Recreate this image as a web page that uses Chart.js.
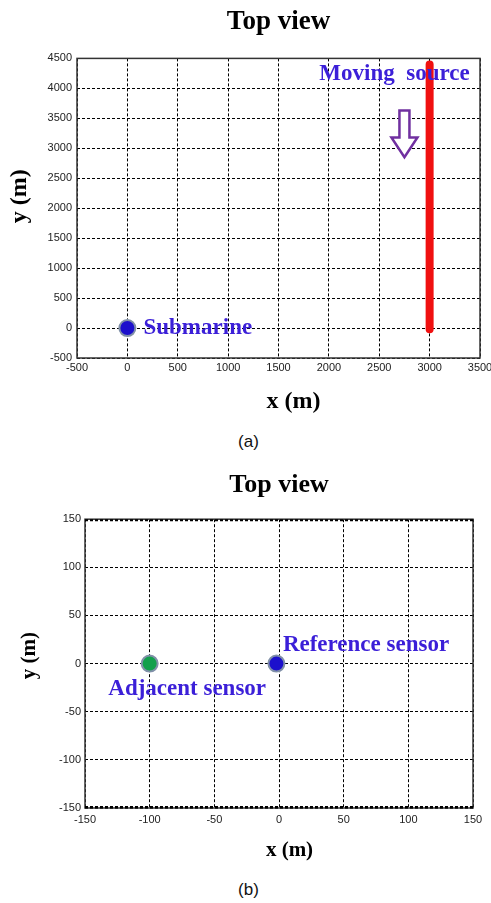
<!DOCTYPE html>
<html>
<head>
<meta charset="utf-8">
<script src="https://cdn.jsdelivr.net/npm/chart.js@4"></script>
<style>
  body { margin: 0; background: #fff; width: 491px; height: 903px; overflow: hidden; position: relative; }
  canvas { display: block; }
  .box { position: absolute; left: 0; }
  .cap { position: absolute; left: 0; width: 497px; text-align: center; font: 17px "Liberation Sans", Arial, sans-serif; color: #111; }
</style>
</head>
<body>
<div class="box" style="top:0"><canvas id="chartA" width="491" height="430"></canvas></div>
<div class="cap" style="top:432px">(a)</div>
<div class="box" style="top:460px"><canvas id="chartB" width="491" height="415"></canvas></div>
<div class="cap" style="top:880px">(b)</div>
<script>
// panel (a): submarine and the moving source track
const xTicksA = [-500, 0, 500, 1000, 1500, 2000, 2500, 3000, 3500];
const yTicksA = [-500, 0, 500, 1000, 1500, 2000, 2500, 3000, 3500, 4000, 4500];
const submarine = [{ x: 0, y: 0 }];
const sourceTrack = [{ x: 3000, y: 4400 }, { x: 3000, y: -20 }];
const arrowA = [2750, 3630, 3180, 2850];  // x, top, head start, tip
const labelsA = ['Moving  source', 'Submarine'];
const labelXA = [1905, 160];
const labelYA = [4245, -8];

// panel (b): the two sensors
const xTicksB = [-150, -100, -50, 0, 50, 100, 150];
const yTicksB = [-150, -100, -50, 0, 50, 100, 150];
const adjacentSensor = [{ x: -100, y: 0 }];
const referenceSensor = [{ x: -2, y: 0 }];
const labelsB = ['Reference sensor', 'Adjacent sensor'];
const labelXB = [3, -132];
const labelYB = [19, -26];

const serif = '"Liberation Serif", "Times New Roman", serif';
const sans = '"Liberation Sans", Arial, sans-serif';

const frame = {
  id: 'frame',
  beforeDatasetsDraw(chart, args, opts) {
    const { ctx, chartArea: a } = chart;
    ctx.save();
    ctx.strokeStyle = '#333';
    ctx.lineWidth = 1.5;
    ctx.strokeRect(a.left, a.top, a.right - a.left, a.bottom - a.top);
    if (opts.dashedEdges) {
      // top and bottom edges look doubled with a dashed line in panel (b)
      ctx.strokeStyle = '#000';
      ctx.lineWidth = 2;
      ctx.setLineDash([3, 2]);
      ctx.beginPath();
      ctx.moveTo(a.left, a.top + 1);
      ctx.lineTo(a.right, a.top + 1);
      ctx.moveTo(a.left, a.bottom - 1);
      ctx.lineTo(a.right, a.bottom - 1);
      ctx.stroke();
    }
    ctx.restore();
  }
};

const notes = {
  id: 'notes',
  afterDatasetsDraw(chart, args, opts) {
    const { ctx, scales: { x, y } } = chart;
    ctx.save();
    if (opts.arrow) {
      const ar = opts.arrow;
      const cx = x.getPixelForValue(ar[0]);
      const yt = y.getPixelForValue(ar[1]);
      const yh = y.getPixelForValue(ar[2]);
      const yp = y.getPixelForValue(ar[3]);
      ctx.beginPath();
      ctx.moveTo(cx - 5, yt);
      ctx.lineTo(cx + 5, yt);
      ctx.lineTo(cx + 5, yh);
      ctx.lineTo(cx + 13, yh);
      ctx.lineTo(cx, yp);
      ctx.lineTo(cx - 13, yh);
      ctx.lineTo(cx - 5, yh);
      ctx.closePath();
      ctx.fillStyle = '#fff';
      ctx.fill();
      ctx.strokeStyle = '#7030a0';
      ctx.lineWidth = 2.5;
      ctx.stroke();
    }
    ctx.font = 'bold 23px ' + serif;
    ctx.fillStyle = '#3b1fd8';
    ctx.textBaseline = 'middle';
    opts.text.forEach((t, i) => {
      ctx.fillText(t, x.getPixelForValue(opts.xs[i]), y.getPixelForValue(opts.ys[i]));
    });
    ctx.restore();
  }
};

function axis(ticks, size, title, titleSize, titlePad, tickPad, horizontal) {
  return {
    type: 'linear',
    min: ticks[0],
    max: ticks[ticks.length - 1],
    afterBuildTicks: (s) => { s.ticks = ticks.map(v => ({ value: v })); },
    afterFit: (s) => {
      if (horizontal) { s.height = size; s.paddingLeft = 0; s.paddingRight = 0; }
      else { s.width = size; s.paddingTop = 0; s.paddingBottom = 0; }
    },
    grid: { color: '#000', lineWidth: 1, drawTicks: false },
    border: { display: false, dash: [3, 2] },
    ticks: {
      padding: tickPad,
      color: '#222',
      font: { family: sans, size: 11 },
      maxRotation: 0,
      autoSkip: false,
      callback: (v) => String(v)
    },
    title: {
      display: true,
      text: title,
      color: '#000',
      font: { family: serif, size: titleSize, weight: 'bold' },
      padding: titlePad
    }
  };
}

function topTitle(size, padTop, padBottom) {
  return {
    display: true,
    text: 'Top view',
    fullSize: false,
    color: '#000',
    font: { family: serif, size: size, weight: 'bold' },
    padding: { top: padTop, bottom: padBottom }
  };
}

new Chart(document.getElementById('chartA'), {
  type: 'scatter',
  data: {
    datasets: [
      {
        label: 'Moving source',
        data: sourceTrack,
        showLine: true,
        borderColor: '#f01010',
        borderWidth: 8,
        borderCapStyle: 'round',
        pointRadius: 0
      },
      {
        label: 'Submarine',
        data: submarine,
        backgroundColor: '#1c10cc',
        borderColor: '#8090a8',
        borderWidth: 2,
        pointRadius: 8
      }
    ]
  },
  options: {
    responsive: false,
    animation: false,
    layout: { padding: { right: 11 } },
    plugins: {
      legend: { display: false },
      tooltip: { enabled: false },
      title: topTitle(27, 6, 20),
      frame: {},
      notes: { text: labelsA, xs: labelXA, ys: labelYA, arrow: arrowA }
    },
    scales: {
      x: axis(xTicksA, 72, '     x (m)', 24, { top: 0, bottom: 14 }, 3, true),
      y: axis(yTicksA, 77, '    y (m)', 24, { top: 5, bottom: 0 }, 5, false)
    }
  },
  plugins: [frame, notes]
});

new Chart(document.getElementById('chartB'), {
  type: 'scatter',
  data: {
    datasets: [
      {
        label: 'Adjacent sensor',
        data: adjacentSensor,
        backgroundColor: '#12a04c',
        borderColor: '#8090a8',
        borderWidth: 2,
        pointRadius: 8
      },
      {
        label: 'Reference sensor',
        data: referenceSensor,
        backgroundColor: '#1c10cc',
        borderColor: '#8090a8',
        borderWidth: 2,
        pointRadius: 8
      }
    ]
  },
  options: {
    responsive: false,
    animation: false,
    layout: { padding: { right: 18 } },
    plugins: {
      legend: { display: false },
      tooltip: { enabled: false },
      title: topTitle(26, 10, 18),
      frame: { dashedEdges: true },
      notes: { text: labelsB, xs: labelXB, ys: labelYB }
    },
    scales: {
      x: axis(xTicksB, 67, '    x (m)', 21, { top: 0, bottom: 12 }, 5, true),
      y: axis(yTicksB, 85, '   y (m)', 21, { top: 17, bottom: 0 }, 4, false)
    }
  },
  plugins: [frame, notes]
});
</script>
</body>
</html>
